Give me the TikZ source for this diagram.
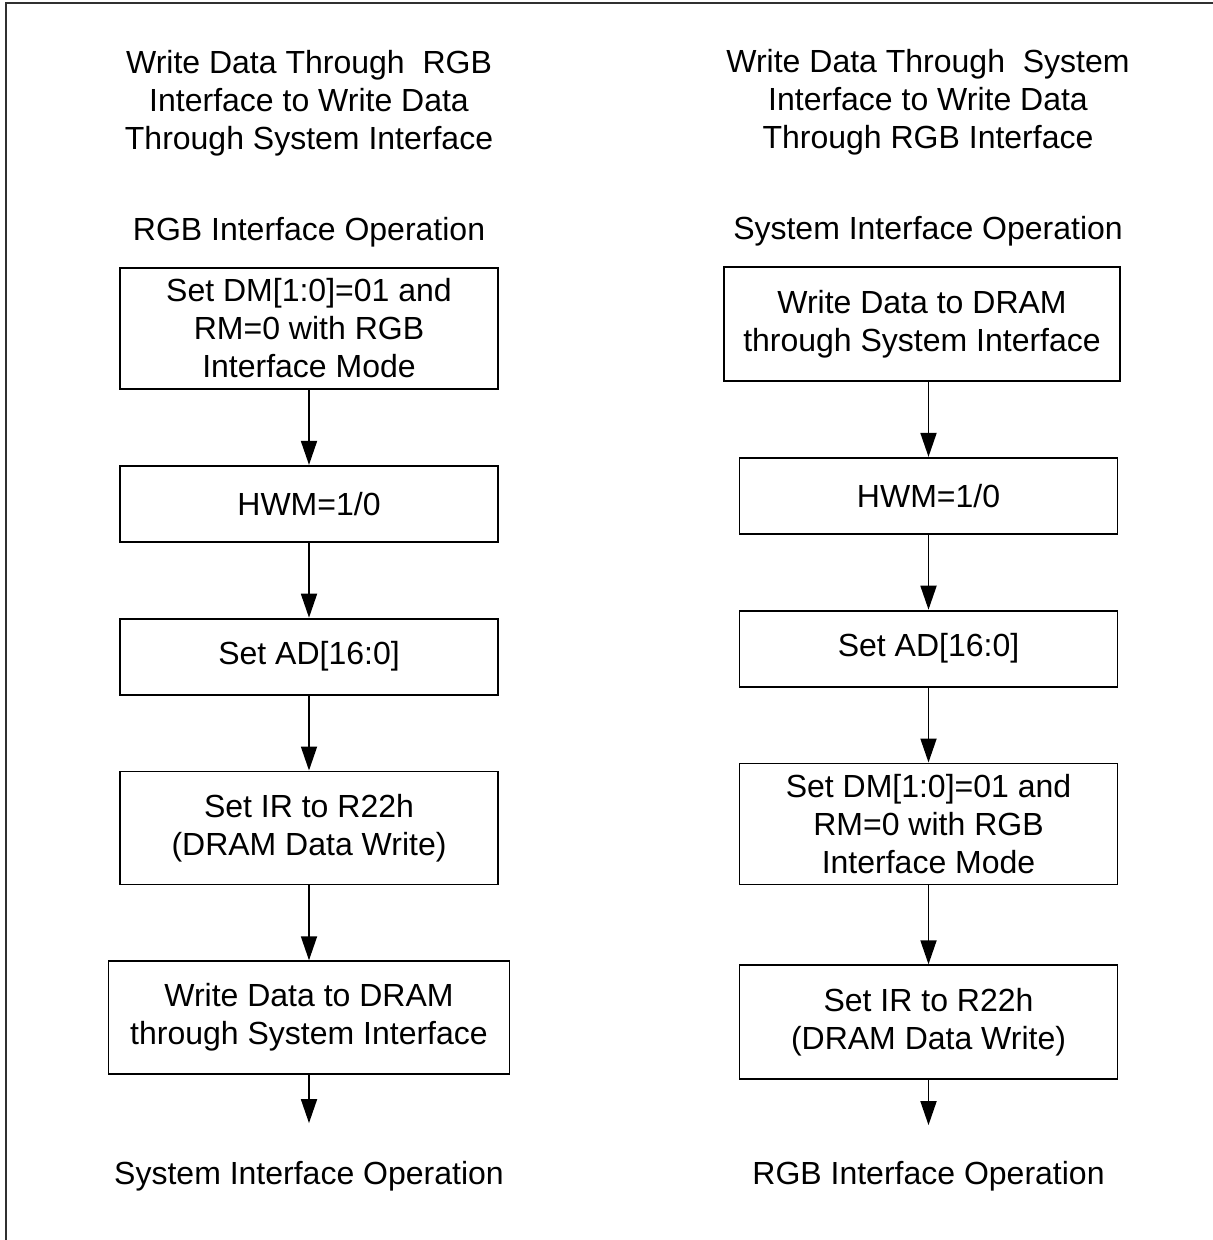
\documentclass[tikz,border=0pt]{standalone}
\usepackage{fontspec}
\setmainfont{Liberation Sans}
\usepackage{tikz}
\usetikzlibrary{positioning, arrows.meta}
\definecolor{ink}{HTML}{000000}
\definecolor{framegray}{HTML}{303030}
\newcommand{\flowfont}{\fontsize{16}{19}\selectfont}
\tikzset{
  stepbox/.style = {rectangle, draw=ink, line width=0.9pt, fill=white,
                    minimum width=189pt, minimum height=38pt,
                    align=center, inner sep=2pt, font=\flowfont},
  heading/.style = {align=center, inner sep=0pt, font=\flowfont},
  arr/.style     = {-{Triangle[length=12pt,width=8pt]}, line width=0.9pt, draw=ink},
}

\begin{document}
\begin{tikzpicture}[x=0.5pt, y=-0.5pt, node distance=37.5pt]

  \useasboundingbox (0,0) rectangle (1213,1240);
  \draw[framegray, line width=1pt] (6,1240) -- (6,3) -- (1213,3);

  % Left column: RGB -> system interface
  \node[stepbox, minimum height=60.5pt] (lset) at (309,328.5)
       {Set DM[1:0]=01 and\\ RM=0 with RGB\\ Interface Mode};
  \node[heading, above=10pt of lset] (lhead) {RGB Interface Operation};
  \node[heading, above=30pt of lhead] (ltitle)
       {Write Data Through~ RGB\\ Interface to Write Data\\ Through System Interface};
  \node[stepbox, below=of lset] (lhwm) {HWM=1/0};
  \node[stepbox, below=of lhwm] (lad) {Set AD[16:0]};
  \node[stepbox, below=of lad, minimum height=56.5pt] (lir)
       {Set IR to R22h\\ (DRAM Data Write)};
  \node[stepbox, below=of lir, minimum width=200.5pt, minimum height=56.5pt] (lwrite)
       {Write Data to DRAM\\ through System Interface};
  \coordinate[below=24pt of lwrite] (lend);
  \node[heading, below=19pt of lend] (lnext) {System Interface Operation};

  % Right column: system -> RGB interface
  \node[stepbox, minimum width=198pt, minimum height=57pt] (rwrite) at (922,324)
       {Write Data to DRAM\\ through System Interface};
  \node[heading, above=10pt of rwrite, xshift=3pt] (rhead) {System Interface Operation};
  \node[heading, above=30pt of rhead] (rtitle)
       {Write Data Through~ System\\ Interface to Write Data\\ Through RGB Interface};
  \node[stepbox, below=of rwrite, xshift=3.25pt] (rhwm) {HWM=1/0};
  \node[stepbox, below=of rhwm] (rad) {Set AD[16:0]};
  \node[stepbox, below=of rad, minimum height=60.5pt] (rset)
       {Set DM[1:0]=01 and\\ RM=0 with RGB\\ Interface Mode};
  \node[stepbox, below=39.5pt of rset, minimum height=57pt] (rir)
       {Set IR to R22h\\ (DRAM Data Write)};
  \coordinate[below=22.5pt of rir] (rend);
  \node[heading, below=18pt of rend] (rnext) {RGB Interface Operation};

  % Arrows
  \draw[arr] (lset) -- (lhwm);
  \draw[arr] (lhwm) -- (lad);
  \draw[arr] (lad) -- (lir);
  \draw[arr] (lir) -- (lwrite);
  \draw[arr] (lwrite) -- (lend);

  \draw[arr] (rwrite.south -| rhwm) -- (rhwm);
  \draw[arr] (rhwm) -- (rad);
  \draw[arr] (rad) -- (rset);
  \draw[arr] (rset) -- (rir);
  \draw[arr] (rir) -- (rend);

\end{tikzpicture}
\end{document}
